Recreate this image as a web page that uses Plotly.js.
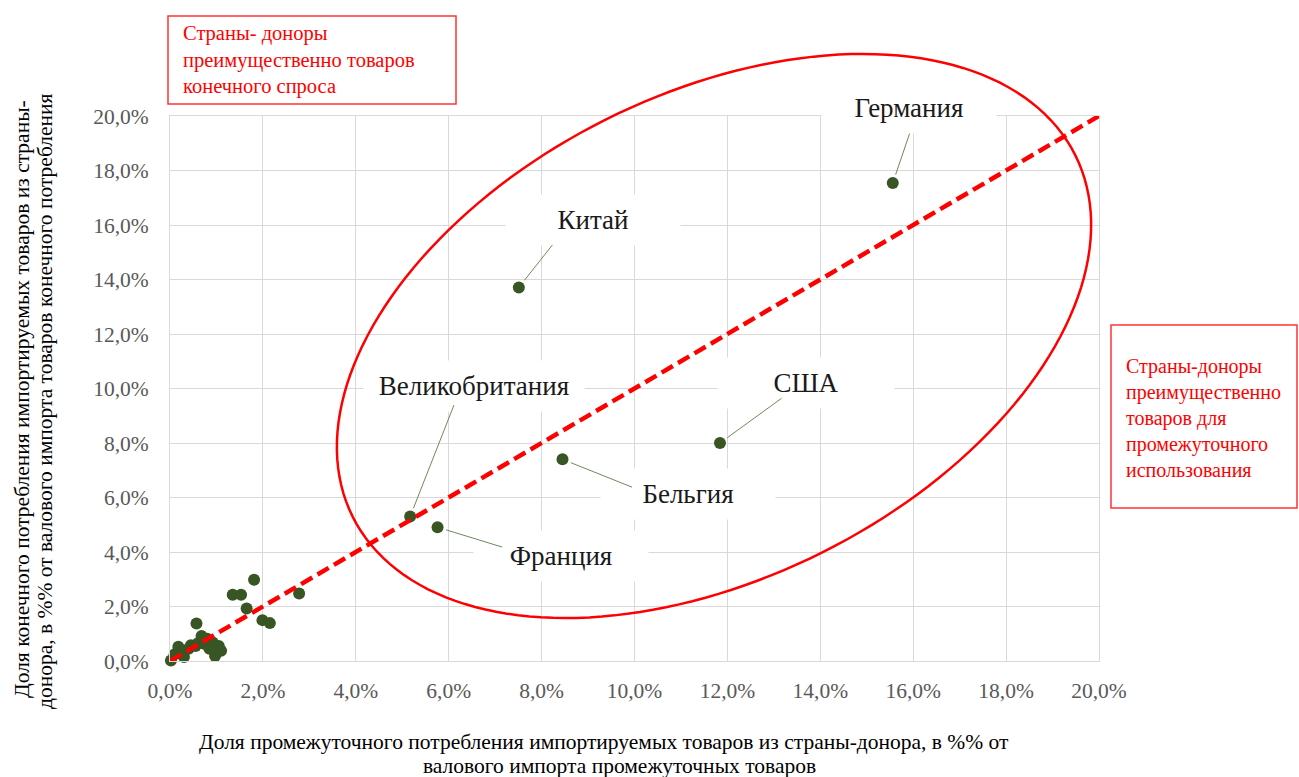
<!DOCTYPE html>
<html>
<head>
<meta charset="utf-8">
<script src="https://cdn.plot.ly/plotly-3.0.1.min.js"></script>
<style>html,body{margin:0;padding:0;background:#fff;}#chart{width:1299px;height:777px;}</style>
</head>
<body>
<div id="chart"></div>
<script>
// ---- data (percent) ----
const labeledNames = ["Германия", "Китай", "США", "Бельгия", "Франция", "Великобритания"];
const labeledX = [15.56, 7.51, 11.84, 8.45, 5.76, 5.17];
const labeledY = [17.54, 13.71, 8.00, 7.40, 4.91, 5.30];

const otherX = [0.02, 0.10, 0.18, 0.30, 0.40, 0.45, 0.55, 0.60, 0.57, 0.68, 0.80, 0.75, 0.92, 1.05, 1.10, 0.97, 1.00, 1.35, 1.53, 1.81, 1.65, 1.99, 2.15, 2.78, 0.25, 0.85];
const otherY = [0.02, 0.25, 0.52, 0.15, 0.45, 0.58, 0.55, 0.65, 1.38, 0.92, 0.82, 0.62, 0.68, 0.55, 0.38, 0.18, 0.35, 2.43, 2.43, 2.98, 1.93, 1.50, 1.39, 2.48, 0.35, 0.45];

const diagX = [0, 20];
const diagY = [0, 20];

const tickVals = [0, 2, 4, 6, 8, 10, 12, 14, 16, 18, 20];
const tickText = ["0,0%", "2,0%", "4,0%", "6,0%", "8,0%", "10,0%", "12,0%", "14,0%", "16,0%", "18,0%", "20,0%"];

const xTitleLines = ["Доля промежуточного потребления импортируемых товаров из страны-донора, в %% от", "валового импорта промежуточных товаров"];
const yTitleLines = ["Доля конечного потребления импортируемых товаров из страны-", "донора, в %% от валового импорта товаров конечного потребления"];
const boxLeftText = "Страны- доноры<br>преимущественно товаров<br>конечного спроса";
const boxRightText = "Страны-доноры<br>преимущественно<br>товаров для<br>промежуточного<br>использования";

// label placement (px): offsets from point to label centre, label box widths, leader-line start offsets
const labelAX = [16, 74, 86, 125, 123, 64];
const labelAY = [-75, -67, -60, 35, 29, -131];
const labelBoxW = [174, 174, 176, 174, 174, 220];
const leaderAX = [17, 34, 62, 70, 65, 44];
const leaderAY = [-50, -43, -45, 28, 20, -112];

// ---- layout geometry ----
const W = 1299, H = 777;
const M = {l: 170, r: 200, t: 116, b: 116};
const PW = W - M.l - M.r, PH = H - M.t - M.b;
const px2paperX = p => (p - M.l) / PW;
const px2paperY = p => (H - M.b - p) / PH;

const FONT = "Liberation Serif";

// ellipse (pixel geometry)
const ell = {cx: 714, cy: 336, a: 404, b: 242, theta: 26.6 * Math.PI / 180};
let path = "";
for (let i = 0; i <= 180; i++) {
  const t = 2 * Math.PI * i / 180;
  const x = ell.cx + ell.a * Math.cos(t) * Math.cos(ell.theta) + ell.b * Math.sin(t) * Math.sin(ell.theta);
  const y = ell.cy - ell.a * Math.cos(t) * Math.sin(ell.theta) + ell.b * Math.sin(t) * Math.cos(ell.theta);
  path += (i === 0 ? "M " : " L ") + px2paperX(x).toFixed(5) + "," + px2paperY(y).toFixed(5);
}
path += " Z";

const traces = [
  {type: "scatter", mode: "markers", x: otherX, y: otherY, marker: {size: 12, color: "#375623"}, hoverinfo: "skip", cliponaxis: false},
  {type: "scatter", mode: "markers", x: labeledX, y: labeledY, text: labeledNames, marker: {size: 12, color: "#375623"}, hoverinfo: "text", cliponaxis: false},
  {type: "scatter", mode: "lines", x: diagX, y: diagY, line: {color: "#ff0000", width: 4.5, dash: "13px,6px"}, hoverinfo: "skip", cliponaxis: false}
];

const annotations = [];
// white label boxes
labeledNames.forEach((n, i) => {
  annotations.push({
    xref: "x", yref: "y", x: labeledX[i], y: labeledY[i], text: n,
    showarrow: true, arrowwidth: 0.1, arrowcolor: "rgba(0,0,0,0)",
    ax: labelAX[i], ay: labelAY[i],
    bgcolor: "#ffffff", borderpad: 0, width: labelBoxW[i], height: 50,
    font: {family: FONT, size: 27, color: "#1a1a1a"}
  });
});
// leader lines
labeledNames.forEach((n, i) => {
  annotations.push({
    xref: "x", yref: "y", x: labeledX[i], y: labeledY[i], text: "",
    showarrow: true, arrowhead: 0, arrowwidth: 1, arrowcolor: "#6e8a5c",
    ax: leaderAX[i], ay: leaderAY[i], standoff: 9, borderpad: 0
  });
});
// axis titles
annotations.push({xref: "paper", yref: "paper", x: px2paperX(604), y: px2paperY(742), text: xTitleLines[0], showarrow: false, xanchor: "center", yanchor: "middle", font: {family: FONT, size: 21.5, color: "#000"}});
annotations.push({xref: "paper", yref: "paper", x: px2paperX(619), y: px2paperY(766), text: xTitleLines[1], showarrow: false, xanchor: "center", yanchor: "middle", font: {family: FONT, size: 21.5, color: "#000"}});
annotations.push({xref: "paper", yref: "paper", x: px2paperX(22), y: px2paperY(399), text: yTitleLines[0], showarrow: false, textangle: -90, xanchor: "center", yanchor: "middle", font: {family: FONT, size: 21.5, color: "#000"}});
annotations.push({xref: "paper", yref: "paper", x: px2paperX(45), y: px2paperY(401), text: yTitleLines[1], showarrow: false, textangle: -90, xanchor: "center", yanchor: "middle", font: {family: FONT, size: 21.5, color: "#000"}});
// boxes text
annotations.push({xref: "paper", yref: "paper", x: px2paperX(181), y: px2paperY(60), text: boxLeftText, showarrow: false, xanchor: "left", yanchor: "middle", align: "left", font: {family: FONT, size: 20.5, color: "#ff0000"}});
annotations.push({xref: "paper", yref: "paper", x: px2paperX(1124), y: px2paperY(418), text: boxRightText, showarrow: false, xanchor: "left", yanchor: "middle", align: "left", font: {family: FONT, size: 20, color: "#ff0000"}});

const shapes = [
  {type: "path", xref: "paper", yref: "paper", path: path, line: {color: "#ff0000", width: 2.5}, layer: "above"},
  {type: "rect", xref: "paper", yref: "paper", x0: px2paperX(168), x1: px2paperX(456), y0: px2paperY(104), y1: px2paperY(16), line: {color: "#ff3333", width: 1.5}},
  {type: "rect", xref: "paper", yref: "paper", x0: px2paperX(1111), x1: px2paperX(1297), y0: px2paperY(508), y1: px2paperY(325), line: {color: "#ff3333", width: 1.5}}
];

const axisCommon = {
  range: [0, 20], fixedrange: true, tickvals: tickVals, ticktext: tickText,
  showgrid: true, gridcolor: "#d9d9d9", gridwidth: 1, zeroline: false,
  showline: true, linecolor: "#d9d9d9", linewidth: 1, mirror: true, ticks: "",
  tickfont: {family: FONT, size: 21.5, color: "#595959"}
};

const layout = {
  width: W, height: H, margin: M, showlegend: false,
  font: {family: FONT},
  paper_bgcolor: "#ffffff", plot_bgcolor: "#ffffff",
  xaxis: Object.assign({}, axisCommon, {ticklabelstandoff: 10}),
  yaxis: Object.assign({}, axisCommon, {ticklabelstandoff: 16}),
  annotations: annotations, shapes: shapes
};

Plotly.newPlot("chart", traces, layout, {displayModeBar: false, staticPlot: true});
</script>
</body>
</html>
